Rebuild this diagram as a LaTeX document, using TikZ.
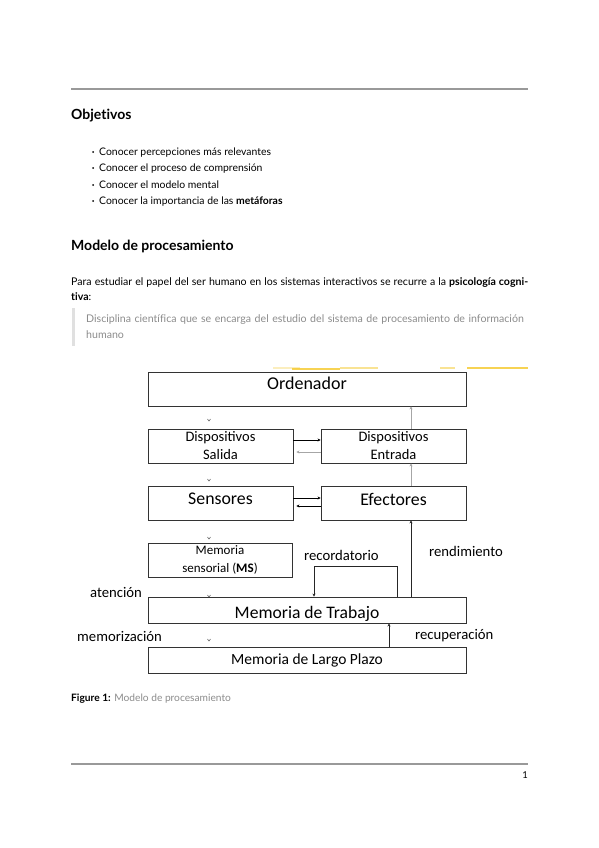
\documentclass[tikz,border=0pt]{standalone}
\usepackage{fontspec}
\setmainfont{Lato}[Ligatures=NoCommon]
\newfontfamily\diag{Carlito}
\usetikzlibrary{arrows.meta}
\definecolor{rulegray}{gray}{0.6}
\definecolor{quotegray}{gray}{0.55}
\definecolor{boxline}{gray}{0.2}
\definecolor{streak}{RGB}{245,200,40}
\begin{document}
\begin{tikzpicture}[x=1pt,y=-1pt,
  box/.style={draw=boxline, line width=0.9pt, inner sep=0pt, font=\diag, align=center},
  darr/.style={draw=black, line width=0.6pt, -{Stealth[length=3pt,width=3pt]}},
  garr/.style={draw=black!35, line width=0.6pt, -{Stealth[length=3pt,width=3pt]}},
  karr/.style={draw=black!85, line width=0.9pt, -{Stealth[length=3pt,width=3pt]}},
  vtick/.style={draw=black!70, line width=0.5pt},
  lab/.style={font=\diag\fontsize{14.7}{16}\selectfont, inner sep=0pt},
  body/.style={font=\fontsize{10.4}{12}\selectfont, inner sep=0pt, anchor=base west}]
\useasboundingbox (0,0) rectangle (599,848);
\fill[white] (0,0) rectangle (599,848);

% top rule
\draw[rulegray, line width=1.8pt] (71,89) -- (528,89);

% Objetivos
\node[font=\fontsize{14}{16}\selectfont\bfseries, inner sep=0pt, anchor=base west] (obj) at (71,120) {Objetivos};
\foreach \yy/\tt [count=\i] in {155/{Conocer percepciones más relevantes},171/{Conocer el proceso de comprensión},188/{Conocer el modelo mental},204/{Conocer la importancia de las \textbf{metáforas}}}{
  \node[body] (b\i) at (99,\yy) {\tt};
  \fill (93,\yy-3) circle (1pt);
}

% Modelo de procesamiento
\node[font=\fontsize{14}{16}\selectfont\bfseries, inner sep=0pt, anchor=base west] (mod) at (71,250) {Modelo de procesamiento};
\node[body, anchor=north west, text width=457pt, align=justify, font=\fontsize{10.6}{15}\selectfont] (para) at (71,277)
 {Para estudiar el papel del ser humano en los sistemas interactivos se recurre a la \textbf{psicología cogni-}\linebreak\textbf{tiva}:};
\fill[black!12] (72,308) rectangle (75,346);
\node[body, anchor=north west, text width=440pt, align=left, font=\fontsize{10.6}{16}\selectfont, text=quotegray] (quote) at (86,314)
 {Disciplina científica que se encarga del estudio del sistema de procesamiento de información\\humano};

% yellow streaks
\draw[streak, opacity=0.3, line width=1.2pt] (273,368) -- (300,368);
\draw[streak, opacity=0.8, line width=1.6pt] (292,369) -- (340,369);
\draw[streak, opacity=0.5, line width=1.2pt] (340,368) -- (378,368);
\draw[streak, opacity=0.5, line width=1.2pt] (440,368) -- (455,368);
\draw[streak, opacity=0.8, line width=1.4pt] (467,368) -- (528,368);

% diagram boxes
\node[box, minimum width=318pt, minimum height=34pt, text depth=12pt, font=\diag\fontsize{18}{19}\selectfont] (ord) at (307,389) {Ordenador};
\node[box, minimum width=145pt, minimum height=34pt, font=\diag\fontsize{14.5}{18}\selectfont] (sal) at (220.5,446) {Dispositivos\\Salida};
\node[box, minimum width=145pt, minimum height=34pt, font=\diag\fontsize{14.5}{18}\selectfont] (ent) at (393.5,446) {Dispositivos\\Entrada};
\node[box, minimum width=145pt, minimum height=34pt, text depth=8pt, font=\diag\fontsize{17.8}{19}\selectfont] (sen) at (220.5,503) {Sensores};
\node[box, minimum width=145pt, minimum height=34pt, text depth=8pt, font=\diag\fontsize{17.8}{19}\selectfont] (efe) at (393.5,503) {Efectores};
\node[box, minimum width=144pt, minimum height=34pt, font=\diag\fontsize{13}{18}\selectfont] (ms) at (220,560) {Memoria\\sensorial (\textbf{MS})};
\node[box, minimum width=318pt, minimum height=26pt, text height=20pt, text depth=4pt, font=\diag\fontsize{17.6}{19}\selectfont] (mt) at (307,610) {Memoria de Trabajo};
\node[box, minimum width=318pt, minimum height=26pt, font=\diag\fontsize{15.5}{17}\selectfont] (lp) at (307,660) {Memoria de Largo Plazo};

% labels
\node[lab, anchor=west] (lrec) at (304,555) {recordatorio};
\node[lab, anchor=west] (lren) at (429,551) {rendimiento};
\node[lab, anchor=west] (late) at (90,592) {atención};
\node[lab, anchor=west] (lmem) at (77,636) {memorización};
\node[lab, anchor=west] (lrecu) at (415,636) {recuperación};

% coordinates for connectors
\coordinate (xr) at (411,0);
\coordinate (xl) at (389,0);
\coordinate (r1) at (397,566);
\coordinate (r2) at (314,566);

% connectors
\draw[darr] ([yshift=6pt]sal.east) -- ([yshift=6pt]ent.west);
\draw[garr] ([yshift=-6pt]ent.west) -- ([yshift=-6pt,xshift=3pt]sal.east);
\draw[darr] ([yshift=5pt]sen.east) -- ([yshift=5pt]efe.west);
\draw[darr] ([yshift=-3pt]efe.west) -- ([yshift=-3pt,xshift=3pt]sen.east);
\draw[garr] (xr |- ent.north) -- (xr |- ord.south);
\draw[garr] (xr |- efe.north) -- (xr |- ent.south);
\draw[karr] (xr |- mt.north) -- (xr |- efe.south);
\draw[karr] (r1 |- mt.north) -- (r1) -- (r2) -- (r2 |- mt.north);
\draw[karr] (xl |- lp.north) -- (xl |- mt.south);

% small tick marks
\foreach \yy in {421,481,539,597,641}{
  \draw[vtick] (207.5,\yy-2) -- (209,\yy) -- (210.5,\yy-2);
}

% caption
\node[body, font=\fontsize{10.2}{12}\selectfont] (cap) at (71,701) {\textbf{Figure 1:} \textcolor{black!45}{Modelo de procesamiento}};

% bottom rule and page number
\draw[rulegray, line width=1.8pt] (71,764) -- (528,764);
\node[body, font=\fontsize{9.5}{11}\selectfont, anchor=base east] (pg) at (528,778) {1};
\end{tikzpicture}
\end{document}
